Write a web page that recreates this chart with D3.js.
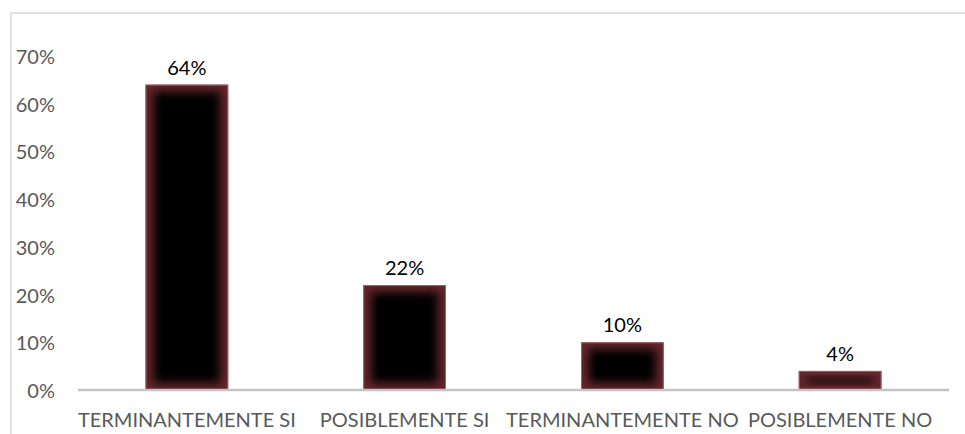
<!DOCTYPE html>
<html><head><meta charset="utf-8">
<script src="https://cdn.jsdelivr.net/npm/d3@7"></script>
<style>body{margin:0;background:#fff}svg{display:block}</style>
</head><body>
<script>
const categories = ["TERMINANTEMENTE SI","POSIBLEMENTE SI","TERMINANTEMENTE NO","POSIBLEMENTE NO"];
const values = [0.64, 0.22, 0.10, 0.04];
const tickValues = [0,0.1,0.2,0.3,0.4,0.5,0.6,0.7];

const W=965,H=434;
const svg=d3.select("body").append("svg").attr("width",W).attr("height",H);
const font="Lato, 'Open Sans', sans-serif";

svg.append("rect").attr("x",11).attr("y",13).attr("width",W+10).attr("height",H+10)
  .attr("fill","none").attr("stroke","#d9d9d9").attr("stroke-width",1.5);

const x=d3.scaleBand().domain(categories).range([78,949]).paddingInner(0.62).paddingOuter(0.31);
const y=d3.scaleLinear().domain([0,0.7]).range([390,56]);

const defs=svg.append("defs");
const blur=defs.append("filter").attr("id","blur").attr("x","-50%").attr("y","-50%").attr("width","200%").attr("height","200%");
blur.append("feGaussianBlur").attr("stdDeviation",5);

const g=svg.append("g");
const bars=g.selectAll("g.bar").data(categories).join("g").attr("class","bar");
bars.each(function(c,i){
  const sel=d3.select(this);
  const bx=x(c),bw=x.bandwidth(),by=y(values[i]),bh=y(0)-y(values[i]);
  defs.append("clipPath").attr("id","clip"+i).append("rect").attr("x",bx).attr("y",by).attr("width",bw).attr("height",bh);
  sel.append("rect").attr("x",bx).attr("y",by).attr("width",bw).attr("height",bh).attr("fill","#64262a");
  const inset=Math.min(7,bh/2-2);
  sel.append("g").attr("clip-path",`url(#clip${i})`).append("rect")
    .attr("x",bx+inset+1).attr("y",by+inset).attr("width",Math.max(0,bw-2*inset-2)).attr("height",Math.max(0,bh-2*inset))
    .attr("fill","#000").attr("filter","url(#blur)");
  sel.append("rect").attr("x",bx+0.5).attr("y",by+0.5).attr("width",bw-1).attr("height",bh-1)
    .attr("fill","none").attr("stroke","#9a6468").attr("stroke-width",1);
});

// data labels
g.selectAll("text.dl").data(categories).join("text").attr("class","dl")
  .attr("x",c=>x(c)+x.bandwidth()/2).attr("y",(c,i)=>y(values[i])-10)
  .attr("text-anchor","middle").attr("font-family",font).attr("font-size",20).attr("fill","#000")
  .text((c,i)=>Math.round(values[i]*100)+"%");

// x axis line
svg.append("line").attr("x1",78).attr("x2",949).attr("y1",y(0)).attr("y2",y(0))
  .attr("stroke","#c4c4c4").attr("stroke-width",2.5);

// y tick labels
svg.selectAll("text.yt").data(tickValues).join("text").attr("class","yt")
  .attr("x",55).attr("y",d=>y(d)+8).attr("text-anchor","end")
  .attr("font-family",font).attr("font-size",20).attr("fill","#595959")
  .text(d=>d3.format(".0%")(d));

// category labels
svg.selectAll("text.xt").data(categories).join("text").attr("class","xt")
  .attr("x",c=>x(c)+x.bandwidth()/2).attr("y",427).attr("text-anchor","middle")
  .attr("font-family",font).attr("font-size",20).attr("fill","#595959")
  .text(c=>c);
</script>
</body></html>
